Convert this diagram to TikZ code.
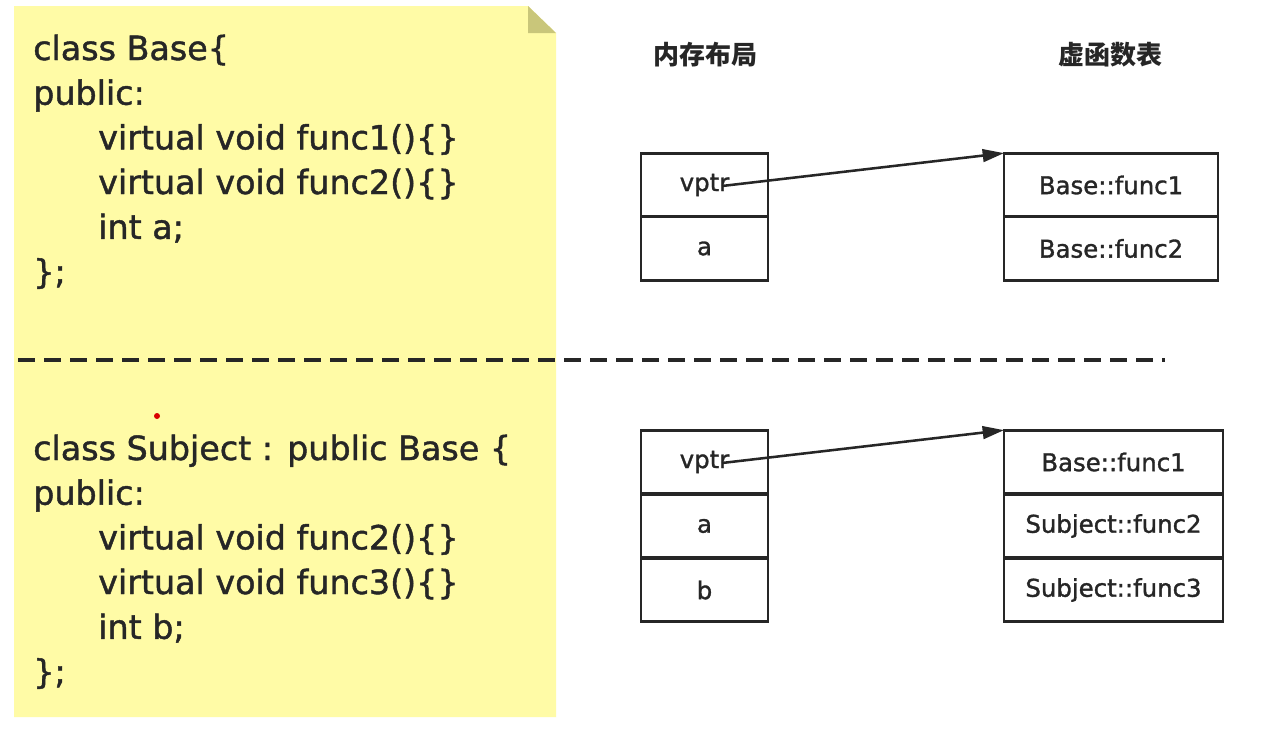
\documentclass[tikz,border=0pt]{standalone}
\usepackage{fontspec}
\setmainfont{DejaVu Sans}
\newfontfamily\heavy{DejaVu Sans}[FakeBold=1.3]
\newfontfamily\cjk{Noto Sans CJK SC}
\usetikzlibrary{arrows.meta}
\definecolor{noteyellow}{HTML}{FFFBA6}
\definecolor{notefold}{HTML}{C9C67A}
\definecolor{ink}{HTML}{262626}
\tikzset{
  codeline/.style={anchor=base west, inner sep=0pt, text=ink, font=\heavy\fontsize{25}{27}\selectfont},
  cell/.style={draw=ink, line width=2.1pt, inner sep=0pt, outer sep=0pt, minimum height=47.8pt, text=ink, font=\heavy\fontsize{18.3}{20}\selectfont},
  memcell/.style={cell, minimum width=95.25pt},
  vt1cell/.style={cell, minimum width=160.5pt},
  vt2cell/.style={cell, minimum width=164.25pt},
  header/.style={inner sep=0pt, text=ink, font=\cjk\bfseries\fontsize{19.5}{21}\selectfont},
  ptr/.style={draw=ink, line width=1.9pt, -{Triangle[length=16pt,width=9.5pt]}},
  divider/.style={draw=ink, line width=2.6pt, dash pattern=on 13pt off 6.5pt}
}
\begin{document}
\begin{tikzpicture}[x=0.75pt,y=-0.75pt]
\useasboundingbox[fill=white] (0,0) rectangle (1262,739);
% note
\fill[noteyellow] (14,6) -- (528,6) -- (556,33) -- (556,717) -- (14,717) -- cycle;
\fill[notefold] (528,6) -- (528,33) -- (556,33) -- cycle;
% code top
\node[codeline] (c1) at (33,60) {class Base\{};
\node[codeline] (c2) at (33,104.7) {public:};
\node[codeline] (c3) at (98,149.4) {virtual void func1()\{\}};
\node[codeline] (c4) at (98,194) {virtual void func2()\{\}};
\node[codeline] (c5) at (98,238.8) {int a;};
\node[codeline] (c6) at (33,283.5) {\};};
% code bottom
\node[codeline] (d1) at (33,460) {class Subject : public Base \{};
\node[codeline] (d2) at (33,504.7) {public:};
\node[codeline] (d3) at (98,549.4) {virtual void func2()\{\}};
\node[codeline] (d4) at (98,594) {virtual void func3()\{\}};
\node[codeline] (d5) at (98,638.8) {int b;};
\node[codeline] (d6) at (33,683.5) {\};};
% red dot
\fill[red!85!black] (157,416) circle (3);
% divider
\coordinate (dl) at (18,360);
\coordinate (dr) at (1165,360);
\draw[divider] (dl) -- (dr);
% headers
\node[header] (h1) at (705,55) {内存布局};
\node[header] (h2) at (1110,55) {虚函数表};
% top memory
\node[memcell] (m1v) at (704.5,185) {vptr};
\node[memcell] (m1a) at (704.5,248.5) {a};
\node[vt1cell] (t1a) at (1111,185) {Base::func1};
\node[vt1cell] (t1b) at (1111,248.5) {Base::func2};
% bottom memory
\node[memcell] (m2v) at (704.5,462) {vptr};
\node[memcell] (m2a) at (704.5,526) {a};
\node[memcell] (m2b) at (704.5,590) {b};
\node[vt2cell] (t2a) at (1113.5,462) {Base::func1};
\node[vt2cell] (t2b) at (1113.5,526) {Subject::func2};
\node[vt2cell] (t2c) at (1113.5,590) {Subject::func3};
% pointers
\coordinate (p1) at (722,186);
\coordinate (p2) at (722,463);
\draw[ptr] (p1) -- (t1a.north west);
\draw[ptr] (p2) -- (t2a.north west);
\end{tikzpicture}
\end{document}
